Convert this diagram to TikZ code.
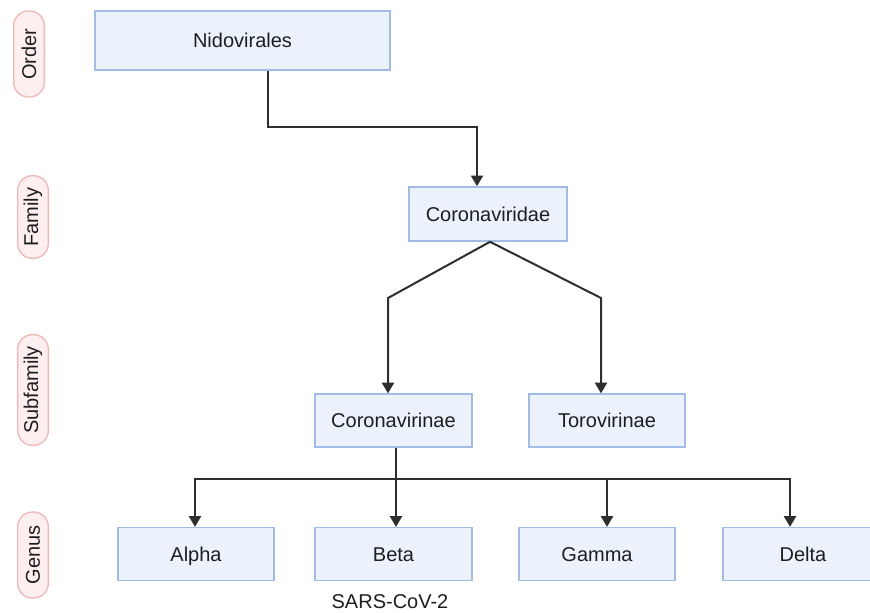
\documentclass[tikz,border=0pt]{standalone}
\usepackage{fontspec}
\setmainfont{Liberation Sans}
\usetikzlibrary{arrows.meta,calc}
\definecolor{boxfill}{HTML}{EBF2FC}
\definecolor{boxline}{HTML}{A3BCE6}
\definecolor{pillfill}{HTML}{FDEFEF}
\definecolor{pillline}{HTML}{EDB8B8}
\definecolor{ink}{HTML}{1E1E1E}
\definecolor{wire}{HTML}{2E2E2E}
\begin{document}
\begin{tikzpicture}[x=0.75pt,y=-0.75pt,
  taxbox/.style={draw=boxline,fill=boxfill,line width=1.2pt,text=ink,
    font=\fontsize{15}{18}\selectfont,inner sep=0pt,minimum height=39.5pt,
    text height=10.8pt,text depth=0pt},
  pill/.style={draw=pillline,fill=pillfill,line width=1pt,text=ink,rotate=90,
    rounded corners=11pt,font=\fontsize{15}{18}\selectfont,inner sep=0pt,minimum height=23pt},
  arr/.style={draw=wire,line width=1.5pt,-{Triangle[width=9pt,length=8pt]}},
  wireline/.style={draw=wire,line width=1.5pt}]
\useasboundingbox (0,0) rectangle (870,612);
% level labels
\node[pill,minimum width=64.5pt] (lorder) at (29,54) {Order};
\node[pill,minimum width=62pt] (lfamily) at (33,217) {Family};
\node[pill,minimum width=83pt] (lsub) at (33,390) {Subfamily};
\node[pill,minimum width=64.5pt] (lgenus) at (33,555) {Genus};
% boxes
\node[taxbox,minimum width=221.25pt,minimum height=44.25pt] (nido) at (242.5,40.5) {Nidovirales};
\node[taxbox,minimum width=118.5pt,minimum height=40.5pt] (fam) at (488,214) {Coronaviridae};
\node[taxbox,minimum width=117.75pt] (cvir) at (393.5,420.5) {Coronavirinae};
\node[taxbox,minimum width=117pt] (tvir) at (607,420.5) {Torovirinae};
\node[taxbox,minimum width=117pt] (alpha) at (196,554) {Alpha};
\node[taxbox,minimum width=117.75pt] (beta) at (393.5,554) {Beta};
\node[taxbox,minimum width=117pt] (gamma) at (597,554) {Gamma};
\node[taxbox,minimum width=120pt] (delta) at (803,554) {Delta};
\node[text=ink,font=\fontsize{15}{18}\selectfont,inner sep=0pt] (sars) at (390,602) {SARS-CoV-2};
% connectors
\coordinate (k1) at (477,127);
\coordinate (fs) at (490,241);
\coordinate (hl) at (396,479);
\draw[arr] (nido.south -| 268,0) |- (k1) -- (fam.north -| k1);
\draw[arr] (fam.south -| fs) -- (388,298) -- (cvir.north -| 388,0);
\draw[arr] (fam.south -| fs) -- (601,298) -- (tvir.north -| 601,0);
\draw[arr] (cvir.south -| hl) -- (beta.north -| hl);
\draw[arr] (hl) -| (alpha.north -| 195,0);
\draw[arr] (hl) -| (gamma.north -| 607,0);
\draw[arr] (hl) -| (delta.north -| 790,0);
\end{tikzpicture}
\end{document}
